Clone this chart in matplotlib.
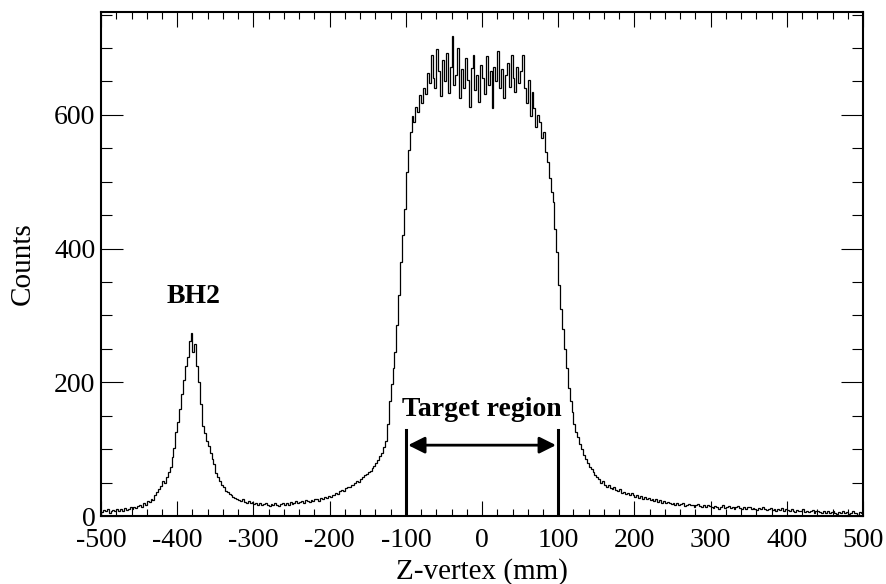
import numpy as np
import matplotlib
matplotlib.use("Agg")
from matplotlib import pyplot as plt

# histogram of reconstructed Z-vertex, 2.5 mm bins from -500 to 500 mm
bin_edges = np.linspace(-500, 500, 401)
counts = [
    6, 9, 7, 10, 5, 8, 9, 7, 11, 8,
    10, 8, 12, 9, 11, 13, 10, 14, 12, 15,
    16, 14, 19, 17, 22, 21, 26, 24, 31, 36,
    40, 45, 52, 49, 58, 66, 74, 88, 102, 125,
    140, 160, 183, 203, 225, 238, 262, 274, 246, 258,
    225, 200, 168, 135, 124, 112, 104, 95, 86, 78,
    65, 58, 52, 46, 44, 38, 36, 33, 31, 29,
    27, 25, 24, 22, 25, 21, 20, 23, 19, 21,
    18, 20, 17, 19, 16, 18, 20, 17, 15, 18,
    16, 19, 17, 15, 18, 20, 16, 19, 17, 21,
    18, 20, 22, 19, 21, 23, 20, 24, 22, 21,
    24, 22, 26, 25, 23, 27, 26, 29, 27, 30,
    29, 32, 31, 35, 33, 37, 39, 38, 42, 44,
    43, 47, 46, 50, 53, 51, 56, 58, 61, 63,
    66, 68, 72, 75, 80, 84, 90, 95, 103, 112,
    138, 172, 198, 222, 245, 285, 330, 380, 420, 460,
    515, 548, 575, 598, 590, 612, 605, 630, 618, 640,
    632, 662, 648, 690, 655, 640, 698, 665, 628, 682,
    650, 692, 633, 672, 718, 645, 660, 700, 625, 668,
    640, 685, 652, 612, 670, 690, 638, 660, 620, 675,
    655, 632, 688, 645, 665, 610, 672, 650, 695, 640,
    668, 625, 660, 678, 642, 690, 655, 635, 672, 648,
    665, 690, 640, 618, 652, 598, 635, 610, 582, 600,
    590, 565, 575, 545, 530, 505, 485, 470, 430, 395,
    345, 310, 280, 250, 222, 192, 172, 155, 138, 125,
    118, 108, 100, 92, 85, 80, 74, 70, 66, 62,
    58, 55, 50, 52, 47, 44, 46, 42, 40, 43,
    39, 37, 40, 35, 36, 33, 35, 31, 34, 32,
    29, 31, 27, 30, 26, 28, 25, 27, 24, 26,
    23, 25, 21, 24, 20, 22, 19, 21, 20, 18,
    19, 17, 20, 16, 18, 19, 15, 17, 18, 16,
    17, 14, 16, 18, 15, 13, 16, 14, 17, 15,
    14, 12, 15, 13, 11, 14, 16, 12, 13, 15,
    12, 14, 11, 13, 15, 12, 10, 13, 11, 14,
    13, 10, 12, 11, 9, 12, 10, 13, 11, 9,
    10, 12, 9, 11, 8, 10, 9, 12, 8, 10,
    9, 7, 10, 8, 6, 9, 7, 8, 10, 6,
    8, 6, 7, 9, 5, 7, 8, 6, 4, 7,
    5, 7, 4, 6, 8, 5, 3, 6, 5, 7,
    4, 6, 3, 5, 7, 4, 5, 2, 6, 4,
]

target_edges = [-100, 100]
target_line_top = 129
arrow_y = 106

plt.rcParams['font.family'] = ['Liberation Serif', 'DejaVu Serif']
plt.rcParams['axes.unicode_minus'] = False

fig = plt.figure(figsize=(8.87, 5.84), dpi=100)
ax = fig.add_axes([0.1139, 0.1164, 0.8591, 0.8631])

ax.stairs(counts, bin_edges, color='black', lw=0.9)

for z in target_edges:
    ax.plot([z, z], [0, target_line_top], color='black', lw=2.2)
ax.annotate('', xy=(target_edges[0] + 3, arrow_y), xytext=(target_edges[1] - 3, arrow_y),
            arrowprops=dict(arrowstyle='<|-|>', color='black', lw=2.0,
                            mutation_scale=25, shrinkA=0, shrinkB=0))
ax.text(0, 150, 'Target region', ha='center', va='baseline',
        fontsize=20, fontweight='bold')
ax.text(-378, 319, 'BH2', ha='center', va='baseline',
        fontsize=20, fontweight='bold')

ax.set_xlim(-500, 500)
ax.set_ylim(0, 754)
ax.set_xticks(np.arange(-500, 501, 100))
ax.set_xticks(np.arange(-500, 501, 20), minor=True)
ax.set_yticks(np.arange(0, 701, 200))
ax.set_yticks(np.arange(0, 751, 50), minor=True)

ax.tick_params(which='both', direction='in', top=True, right=True, labelsize=20, width=0.8)
ax.tick_params(axis='x', which='major', length=11, pad=8.5)
ax.tick_params(axis='x', which='minor', length=5)
ax.tick_params(axis='y', which='major', length=16, pad=4)
ax.tick_params(axis='y', which='minor', length=8)
for s in ax.spines.values():
    s.set_linewidth(1.5)

ax.set_xlabel('Z-vertex (mm)', fontsize=21, labelpad=4)
ax.set_ylabel('Counts', fontsize=21, labelpad=13)

fig.savefig('out.png', dpi=100)
